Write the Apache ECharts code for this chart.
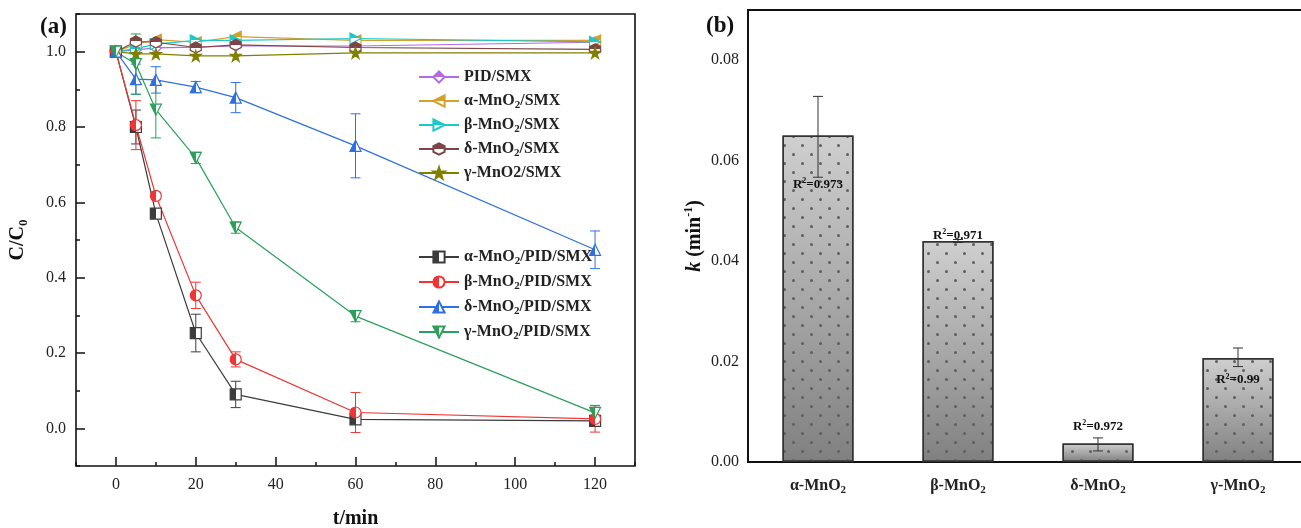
<!DOCTYPE html>
<html><head><meta charset="utf-8">
<script src="https://cdn.jsdelivr.net/npm/echarts@6/dist/echarts.min.js"></script>
<style>html,body{margin:0;padding:0;background:#fff}#c{width:1301px;height:528px}</style>
</head><body><div id="c"></div>
<script>
// ---------- Panel (a) data ----------
const times = [0, 5, 10, 20, 30, 60, 120];
const seriesNames = ['PID/SMX', 'α-MnO_2/SMX', 'β-MnO_2/SMX', 'δ-MnO_2/SMX', 'γ-MnO2/SMX',
  'α-MnO_2/PID/SMX', 'β-MnO_2/PID/SMX', 'δ-MnO_2/PID/SMX', 'γ-MnO_2/PID/SMX'];
const pidSmx    = [1.0, 1.005, 1.010, 1.012, 1.015, 1.015, 1.025];
const alphaSmx  = [1.0, 1.020, 1.032, 1.025, 1.040, 1.030, 1.030];
const betaSmx   = [1.0, 1.008, 1.020, 1.030, 1.030, 1.035, 1.026];
const deltaSmx  = [1.0, 1.027, 1.025, 1.011, 1.018, 1.011, 1.006];
const gammaSmx  = [1.0, 0.994, 0.994, 0.989, 0.989, 0.997, 0.997];
const alphaPid  = [1.0, 0.800, 0.570, 0.253, 0.090, 0.024, 0.020];
const betaPid   = [1.0, 0.805, 0.617, 0.353, 0.183, 0.042, 0.025];
const deltaPid  = [1.0, 0.927, 0.925, 0.906, 0.878, 0.750, 0.474];
const gammaPid  = [1.0, 0.967, 0.846, 0.718, 0.533, 0.298, 0.041];
const alphaPidErr = [0, 0.045, 0.010, 0.050, 0.035, 0.008, 0.006];
const betaPidErr  = [0, 0.065, 0.010, 0.035, 0.020, 0.053, 0.035];
const deltaPidErr = [0, 0.040, 0.035, 0.015, 0.040, 0.085, 0.050];
const gammaPidErr = [0, 0.080, 0.075, 0.015, 0.015, 0.015, 0.020];
const xTickLabels = [0, 20, 40, 60, 80, 100, 120];
const yTickLabels = [0, 0.2, 0.4, 0.6, 0.8, 1.0];

// ---------- Panel (b) data ----------
const catalysts = ['α-MnO_2', 'β-MnO_2', 'δ-MnO_2', 'γ-MnO_2'];
const kValues  = [0.0650, 0.0440, 0.0037, 0.0207];
const kErrLow  = [0.0567, 0.0437, 0.0022, 0.0190];
const kErrHigh = [0.0728, 0.0443, 0.0048, 0.0227];
const r2Labels = ['0.973', '0.971', '0.972', '0.99'];
const kTickLabels = [0, 0.02, 0.04, 0.06, 0.08];

const SERIF = '"Liberation Serif","Times New Roman",serif';
const sub = s => s.replace('_2', '{sub|2}');
const chart = echarts.init(document.getElementById('c'), null, {renderer: 'canvas'});

function half(color, vertical) {
  return new echarts.graphic.LinearGradient(0, 0, vertical ? 0 : 1, vertical ? 1 : 0, [
    {offset: 0, color: color}, {offset: 0.5, color: color},
    {offset: 0.5, color: '#ffffff'}, {offset: 1, color: '#ffffff'}]);
}

const styles = [
  {vals: pidSmx,   color: '#b36ae2', symbol: 'diamond', v: true},
  {vals: alphaSmx, color: '#d4a12a', symbol: 'path://M0,5 L10,0 L10,10 Z', v: true},
  {vals: betaSmx,  color: '#1fc8c8', symbol: 'path://M10,5 L0,0 L0,10 Z', v: true},
  {vals: deltaSmx, color: '#7d4545', symbol: 'path://M5,0 L9.33,2.5 L9.33,7.5 L5,10 L0.67,7.5 L0.67,2.5 Z', v: true},
  {vals: gammaSmx, color: '#808000', symbol: 'path://M5,0 L6.2,3.6 L10,3.6 L6.9,5.9 L8.1,9.6 L5,7.3 L1.9,9.6 L3.1,5.9 L0,3.6 L3.8,3.6 Z', full: true},
  {vals: alphaPid, color: '#3c3c3c', symbol: 'rect', err: alphaPidErr},
  {vals: betaPid,  color: '#f03535', symbol: 'circle', err: betaPidErr},
  {vals: deltaPid, color: '#2f6fe0', symbol: 'triangle', err: deltaPidErr},
  {vals: gammaPid, color: '#2ca05a', symbol: 'path://M0,0 L10,0 L5,10 Z', err: gammaPidErr}
];

const series = [];
styles.forEach((s, k) => {
  if (s.err) {
    series.push({
      type: 'custom', xAxisIndex: 0, yAxisIndex: 0, silent: true, z: 2,
      encode: {x: 0, y: [1, 2]},
      data: times.map((t, i) => [t, s.vals[i] - s.err[i], s.vals[i] + s.err[i]]).filter((d, i) => s.err[i] > 0),
      renderItem: (params, api) => {
        const lo = api.coord([api.value(0), api.value(1)]);
        const hi = api.coord([api.value(0), api.value(2)]);
        const w = 5, st = {stroke: s.color, lineWidth: 1};
        return {type: 'group', children: [
          {type: 'line', shape: {x1: lo[0], y1: lo[1], x2: hi[0], y2: hi[1]}, style: st},
          {type: 'line', shape: {x1: lo[0] - w, y1: lo[1], x2: lo[0] + w, y2: lo[1]}, style: st},
          {type: 'line', shape: {x1: hi[0] - w, y1: hi[1], x2: hi[0] + w, y2: hi[1]}, style: st}
        ]};
      }
    });
  }
  series.push({
    type: 'line', name: seriesNames[k], xAxisIndex: 0, yAxisIndex: 0, z: 3,
    data: times.map((t, i) => [t, s.vals[i]]),
    symbol: s.symbol, symbolSize: 11, showSymbol: true,
    lineStyle: {color: s.color, width: 1.2},
    itemStyle: {color: s.full ? s.color : half(s.color, !!s.v), borderColor: s.color, borderWidth: 1.2},
    emphasis: {disabled: true}
  });
});

series.push({
  type: 'bar', xAxisIndex: 2, yAxisIndex: 2, barWidth: 71, z: 2,
  data: kValues.map((v, i) => ({
    value: v,
    label: [
      {position: ['50%', 49], align: 'center', verticalAlign: 'middle'},
      {position: 'top', distance: -2},
      {position: 'top', distance: 9},
      {position: ['50%', 22], align: 'center', verticalAlign: 'middle'}
    ][i]
  })),
  itemStyle: {
    color: new echarts.graphic.LinearGradient(0, 0, 0, 1, [{offset: 0, color: '#cfcfcf'}, {offset: 1, color: '#808080'}]),
    borderColor: '#333', borderWidth: 1.5,
    decal: {symbol: 'circle', symbolSize: 1, color: '#5f5f5f',
      dashArrayX: [[2.6, 14.4], [0, 8.5, 2.6, 5.9]], dashArrayY: [2.6, 5.9]}
  },
  label: {
    show: true, color: '#111', fontFamily: SERIF, fontWeight: 'bold', fontSize: 13,
    formatter: p => 'R{sup|2}=' + r2Labels[p.dataIndex],
    rich: {sup: {fontSize: 8, fontWeight: 'bold', fontFamily: SERIF, verticalAlign: 'top', color: '#111'}},
    lineHeight: 15
  },
  emphasis: {disabled: true}
});
series.push({
  type: 'custom', xAxisIndex: 2, yAxisIndex: 2, silent: true, z: 4,
  encode: {x: 0, y: [1, 2]},
  data: kValues.map((v, i) => [i, kErrLow[i], kErrHigh[i]]),
  renderItem: (params, api) => {
    const lo = api.coord([api.value(0), api.value(1)]);
    const hi = api.coord([api.value(0), api.value(2)]);
    const w = 5, st = {stroke: '#333', lineWidth: 1};
    return {type: 'group', children: [
      {type: 'line', shape: {x1: lo[0], y1: lo[1], x2: hi[0], y2: hi[1]}, style: st},
      {type: 'line', shape: {x1: lo[0] - w, y1: lo[1], x2: lo[0] + w, y2: lo[1]}, style: st},
      {type: 'line', shape: {x1: hi[0] - w, y1: hi[1], x2: hi[0] + w, y2: hi[1]}, style: st}
    ]};
  }
});

const tickFont = {fontFamily: SERIF, fontSize: 16, color: '#222'};
const legendText = {
  fontFamily: SERIF, fontWeight: 'bold', fontSize: 16, color: '#222', lineHeight: 20,
  rich: {sub: {fontFamily: SERIF, fontWeight: 'bold', fontSize: 11, color: '#222', verticalAlign: 'bottom'}}
};

const option = {
  animation: false,
  backgroundColor: '#fff',
  grid: [
    {left: 76, top: 14, width: 559, height: 452, show: true, borderColor: '#111', borderWidth: 1.6, backgroundColor: 'transparent', outerBoundsMode: 'none'},
    {left: 748, top: 10, width: 560, height: 452, show: true, borderColor: '#111', borderWidth: 2, backgroundColor: 'transparent', outerBoundsMode: 'none'}
  ],
  legend: [
    {data: seriesNames.slice(0, 5), orient: 'vertical', left: 413, top: 62, itemWidth: 40, itemHeight: 14, itemGap: 4,
      selectedMode: false, textStyle: legendText, formatter: sub},
    {data: seriesNames.slice(5), orient: 'vertical', left: 413, top: 242, itemWidth: 40, itemHeight: 14, itemGap: 5,
      selectedMode: false, textStyle: legendText, formatter: sub}
  ],
  xAxis: [
    {type: 'value', gridIndex: 0, min: -10, max: 130, interval: 10,
      axisLine: {show: false, onZero: false}, splitLine: {show: false},
      axisTick: {inside: true, length: 4, lineStyle: {color: '#111', width: 1.5}},
      axisLabel: {...tickFont, margin: 11, formatter: v => (xTickLabels.indexOf(Math.round(v)) >= 0 && Math.abs(v - Math.round(v)) < 1e-6) ? String(Math.round(v)) : ''},
      name: 't/min', nameLocation: 'middle', nameGap: 43,
      nameTextStyle: {fontFamily: SERIF, fontWeight: 'bold', fontSize: 20, color: '#111'}},
    {type: 'value', gridIndex: 0, min: -10, max: 130, position: 'bottom',
      axisLine: {show: false, onZero: false}, splitLine: {show: false}, axisLabel: {show: false},
      axisTick: {inside: true, length: 9, customValues: xTickLabels, lineStyle: {color: '#111', width: 1.5}}},
    {type: 'category', gridIndex: 1, data: catalysts,
      axisLine: {show: false, onZero: false}, splitLine: {show: false},
      axisTick: {inside: true, length: 4, lineStyle: {color: '#111', width: 1.5}},
      axisLabel: {fontFamily: SERIF, fontWeight: 'bold', fontSize: 16, color: '#222', margin: 14, lineHeight: 20,
        formatter: sub,
        rich: {sub: {fontFamily: SERIF, fontWeight: 'bold', fontSize: 11, color: '#222', verticalAlign: 'bottom'}}}}
  ],
  yAxis: [
    {type: 'value', gridIndex: 0, min: -0.1, max: 1.1, interval: 0.1,
      axisLine: {show: false, onZero: false}, splitLine: {show: false},
      axisTick: {inside: true, length: 4, lineStyle: {color: '#111', width: 1.5}},
      axisLabel: {...tickFont, margin: 10, formatter: v => {
        const r = Math.round(v * 10);
        return (r >= 0 && r <= 10 && r % 2 === 0) ? (r / 10).toFixed(1) : '';
      }},
      name: 'C/C{sub|0}', nameLocation: 'middle', nameGap: 46,
      nameTextStyle: {fontFamily: SERIF, fontWeight: 'bold', fontSize: 20, color: '#111', lineHeight: 24,
        rich: {sub: {fontFamily: SERIF, fontWeight: 'bold', fontSize: 13, color: '#111', verticalAlign: 'bottom'}}}},
    {type: 'value', gridIndex: 0, min: -0.1, max: 1.1, position: 'left',
      axisLine: {show: false, onZero: false}, splitLine: {show: false}, axisLabel: {show: false},
      axisTick: {inside: true, length: 9, customValues: yTickLabels, lineStyle: {color: '#111', width: 1.5}}},
    {type: 'value', gridIndex: 1, min: 0, max: 0.09, interval: 0.01,
      axisLine: {show: false, onZero: false}, splitLine: {show: false},
      axisTick: {inside: true, length: 4, lineStyle: {color: '#111', width: 1.5}},
      axisLabel: {...tickFont, margin: 9, formatter: v => {
        const r = Math.round(v * 100);
        return (r % 2 === 0 && r <= 8) ? (r / 100).toFixed(2) : '';
      }},
      name: '{i|k} (min{sup|-1})', nameLocation: 'middle', nameGap: 38,
      nameTextStyle: {fontFamily: SERIF, fontWeight: 'bold', fontSize: 20, color: '#111', lineHeight: 24,
        rich: {
          i: {fontFamily: SERIF, fontWeight: 'bold', fontStyle: 'italic', fontSize: 20, color: '#111'},
          sup: {fontFamily: SERIF, fontWeight: 'bold', fontSize: 12, color: '#111', verticalAlign: 'top'}
        }}},
    {type: 'value', gridIndex: 1, min: 0, max: 0.09, position: 'left',
      axisLine: {show: false, onZero: false}, splitLine: {show: false}, axisLabel: {show: false},
      axisTick: {inside: true, length: 9, customValues: kTickLabels, lineStyle: {color: '#111', width: 1.5}}}
  ],
  graphic: [
    {type: 'text', left: 40, top: 16, style: {text: '(a)', fontFamily: SERIF, fontWeight: 'bold', fontSize: 23, fill: '#111'}},
    {type: 'text', left: 706, top: 15, style: {text: '(b)', fontFamily: SERIF, fontWeight: 'bold', fontSize: 23, fill: '#111'}}
  ],
  series: series
};
chart.setOption(option);
</script>
</body></html>
